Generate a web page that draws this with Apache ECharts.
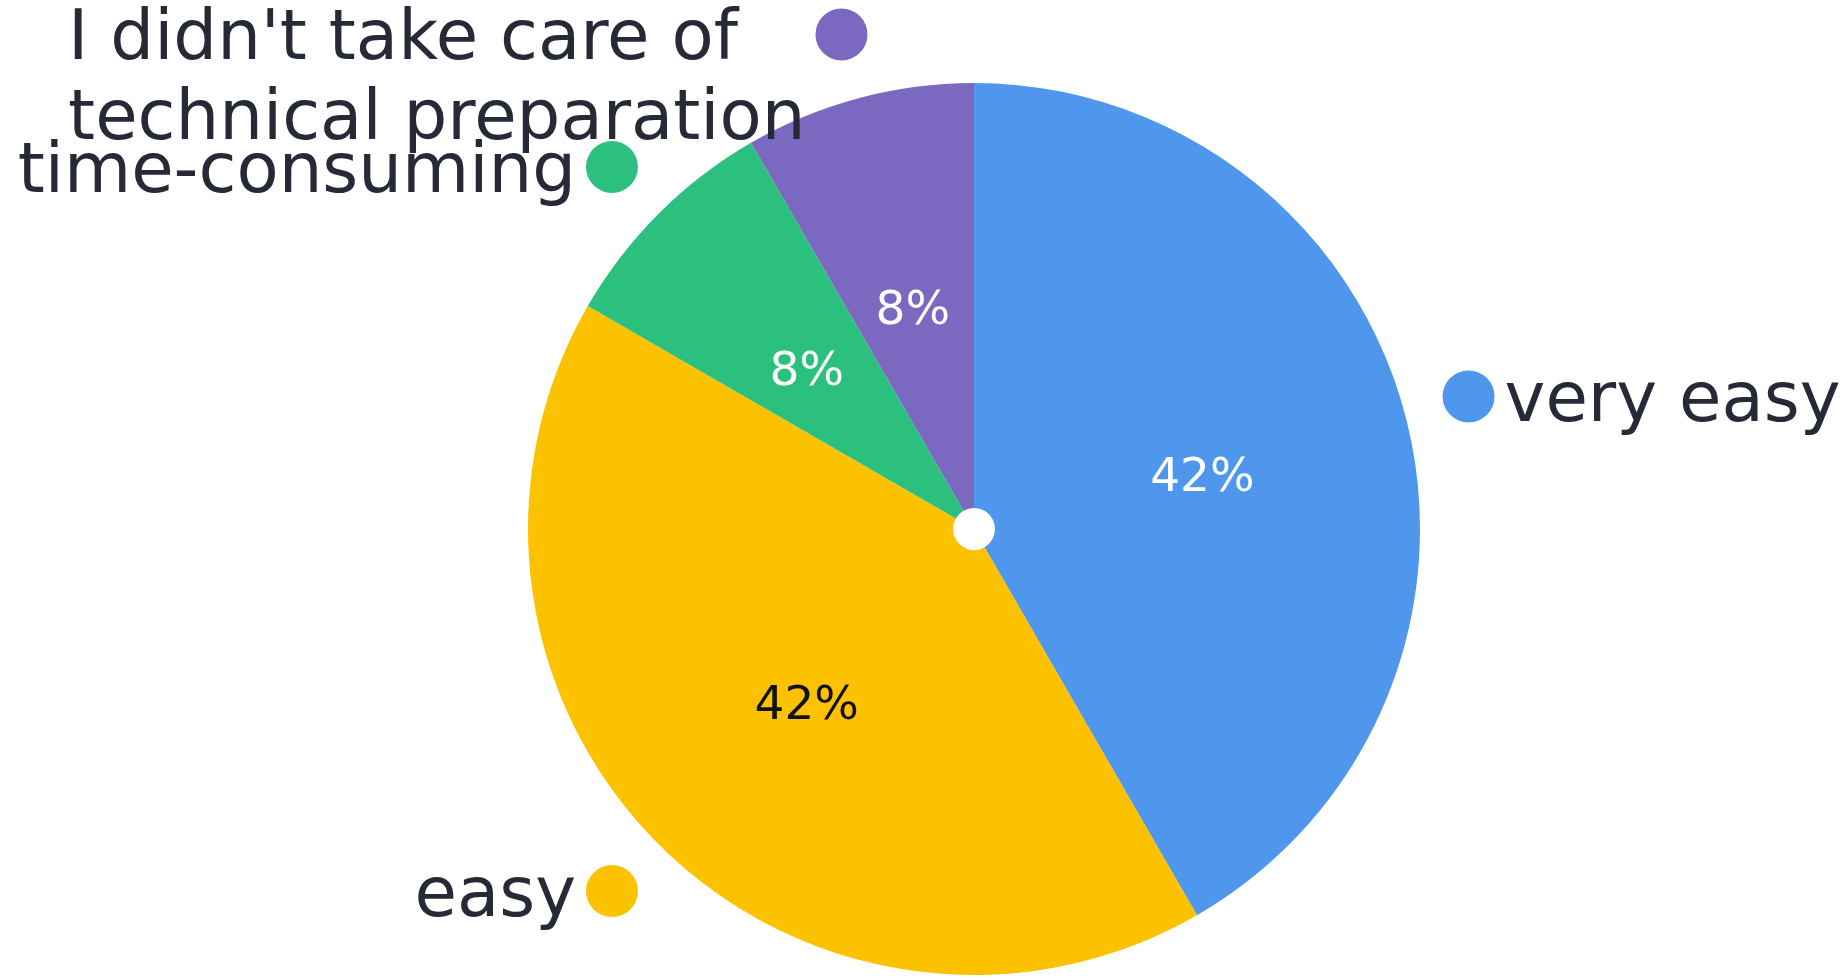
<!DOCTYPE html>
<html>
<head>
<meta charset="utf-8">
<script src="https://cdn.jsdelivr.net/npm/echarts@6/dist/echarts.min.js"></script>
<style>
html, body { margin: 0; padding: 0; background: #ffffff; }
#chart { width: 1844px; height: 980px; }
</style>
</head>
<body>
<div id="chart"></div>
<script>
// ---- data ----
const categories = ['very easy', 'easy', 'time-consuming', "I didn't take care of\ntechnical preparation"];
const values = [5, 5, 1, 1];
const sliceColors = ['#4e97ec', '#fcc200', '#2cc07e', '#7b68c0'];
const percentColors = ['#ffffff', '#111111', '#ffffff', '#ffffff'];

// ---- styling ----
const FONT = 'DejaVu Sans';
const TEXT_COLOR = '#262a36';
const LINE_H = 80;
const DOT = 52;
const GAP = 10;
const TEXT_DROP = 14;   // top padding that lowers text relative to dot
const CENTER = [974, 529];
const RADIUS = [21, 446];

const total = values.reduce((a, b) => a + b, 0);
function isRightSide(i) {
  let before = 0;
  for (let k = 0; k < i; k++) before += values[k];
  const mid = (before + values[i] / 2) / total * 360;
  return mid < 180;
}

const textStyle = { fontSize: 69, lineHeight: LINE_H, fontFamily: FONT, color: TEXT_COLOR, align: 'left', padding: [TEXT_DROP, 0, 0, 0] };
const rich = {
  tl: Object.assign({}, textStyle),
  tr: Object.assign({}, textStyle),
  gl: { width: GAP, align: 'left' },
  gr: { width: GAP, align: 'right' },
  sl: { width: GAP + DOT, align: 'left' },
  sr: { width: GAP + DOT, align: 'right' }
};
sliceColors.forEach((c, i) => {
  rich['dl' + i] = { width: DOT, height: DOT, borderRadius: DOT / 2, backgroundColor: c, align: 'left' };
  rich['dr' + i] = { width: DOT, height: DOT, borderRadius: DOT / 2, backgroundColor: c, align: 'right' };
});

function outsideLabel(p) {
  const i = p.dataIndex;
  const lines = p.name.split('\n');
  if (isRightSide(i)) {
    return lines.map((l, k) => k === 0 ? '{dl' + i + '|}{gl|}{tl|' + l + '}' : '{sl|}{tl|' + l + '}').join('\n');
  }
  return lines.map((l, k) => k === 0 ? '{tr|' + l + '}{gr|}{dr' + i + '|}' : '{tr|' + l + '}{sr|}').join('\n');
}

const chart = echarts.init(document.getElementById('chart'));
chart.setOption({
  animation: false,
  backgroundColor: '#ffffff',
  series: [
    {
      type: 'pie',
      center: CENTER,
      radius: RADIUS,
      startAngle: 90,
      clockwise: true,
      percentPrecision: 0,
      silent: true,
      avoidLabelOverlap: false,
      itemStyle: { borderWidth: 0 },
      label: {
        show: true,
        position: 'inside',
        formatter: '{d}%',
        fontFamily: FONT,
        fontSize: 47,
        textBorderWidth: 0
      },
      labelLayout: function () {
        return { dy: 11 };
      },
      labelLine: { show: false },
      emphasis: { disabled: true },
      data: values.map((v, i) => ({
        value: v,
        name: categories[i],
        itemStyle: { color: sliceColors[i] },
        label: { color: percentColors[i] }
      }))
    },
    {
      type: 'pie',
      center: CENTER,
      radius: RADIUS,
      startAngle: 90,
      clockwise: true,
      silent: true,
      avoidLabelOverlap: false,
      itemStyle: { color: 'rgba(0,0,0,0)', borderWidth: 0 },
      label: {
        show: true,
        position: 'outside',
        distanceToLabelLine: -DOT / 2,
        formatter: outsideLabel,
        rich: rich
      },
      labelLine: { show: false, length: 66, length2: 0 },
      labelLayout: function (params) {
        const n = (params.text || '').split('\n').length;
        return { dy: (n - 1) * LINE_H / 2 };
      },
      emphasis: { disabled: true },
      data: values.map((v, i) => ({ value: v, name: categories[i] }))
    }
  ]
});
</script>
</body>
</html>
